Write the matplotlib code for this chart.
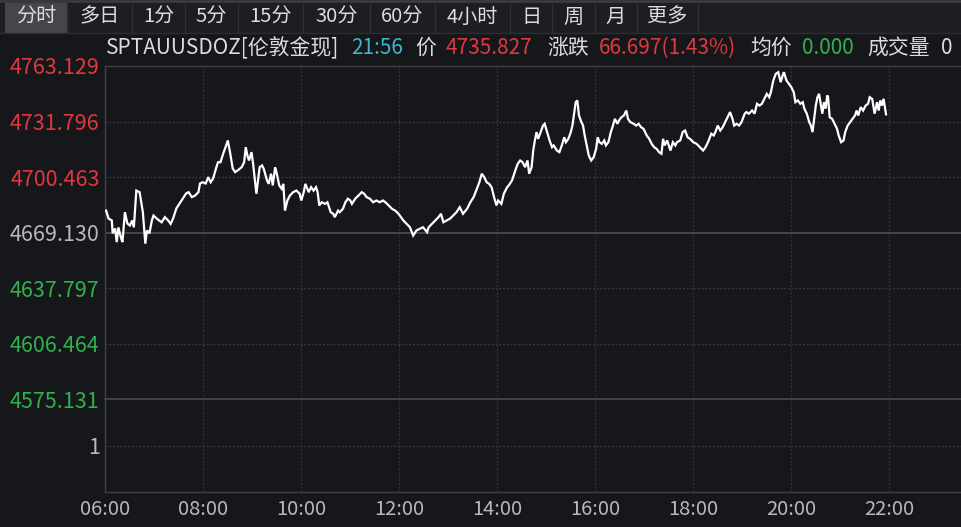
import matplotlib
matplotlib.use('Agg')
import matplotlib.pyplot as plt
from matplotlib.patches import Rectangle
from matplotlib.lines import Line2D

plt.rcParams['font.family'] = ['Noto Sans CJK SC', 'DejaVu Sans']

# ---------------- data ----------------
tab_labels = ["分时", "多日", "1分", "5分", "15分", "30分", "60分", "4小时", "日", "周", "月", "更多"]
x_tick_labels = ["06:00", "08:00", "10:00", "12:00", "14:00", "16:00", "18:00", "20:00", "22:00"]
x_tick_minutes = [0, 120, 240, 360, 480, 600, 720, 840, 960]
y_tick_values = [4763.129, 4731.796, 4700.463, 4669.130, 4637.797, 4606.464, 4575.131]
prev_close = 4669.130
volume_ticks = [1]

# minutes after 06:00
minutes = [
    1, 4, 8, 9, 12, 14, 16, 19, 21, 24, 27, 30, 33, 35, 38, 42, 45, 46, 49, 51,
    54, 57, 59, 63, 66, 69, 73, 77, 80, 83, 87, 91, 95, 99, 102, 106, 110, 114, 116, 119,
    123, 126, 129, 132, 136, 138, 141, 145, 148, 150, 153, 156, 159, 163, 167, 170, 172, 174, 176, 179,
    181, 183, 185, 189, 192, 194, 198, 200, 203, 205, 208, 210, 213, 216, 218, 220, 223, 226, 230, 234,
    238,
    240, 243, 245, 249, 252, 255, 258, 260, 262, 265, 269, 272, 276, 279, 281, 285, 287, 291, 294, 297,
    300, 302, 306, 310, 314, 317, 320, 324, 328, 332, 336, 340, 343, 347, 351, 355, 359, 362, 365, 369,
    373, 377, 381, 385, 389, 394, 396, 400, 404, 408, 411, 414, 418, 422, 426, 430, 434, 438, 443, 447,
    451, 455, 458, 461, 464, 467, 470, 473, 476, 479, 481, 485, 488, 492,
    494, 498, 502, 505, 508, 511, 514, 517, 519, 522, 524, 526, 528, 530, 533, 536, 538, 541, 544, 547,
    549, 553, 556, 559, 562, 564, 567, 570, 572, 574, 576, 578, 580, 583, 585, 587, 590, 592, 595, 598,
    601, 603, 605, 608, 611, 613, 616, 619, 621, 624, 627, 629, 632, 635, 638, 640, 643, 647, 650, 653,
    656, 659, 661, 663, 666, 669, 672, 675, 678, 681, 683, 685, 688, 692, 695, 698, 700, 704, 707, 710,
    713, 716, 720, 724, 728, 732, 735, 738, 742, 745, 747, 750, 753, 756, 759, 762, 765, 768, 770, 773,
    776, 779, 783, 785, 788, 792, 795, 798, 801, 804, 807, 810, 813, 815, 818, 821, 824, 827, 830, 831,
    834, 837, 840, 843, 845, 848, 851, 854, 856, 859, 862, 864, 866, 868, 870, 872, 874, 876, 878, 880,
    882, 884, 885, 887, 890, 893, 896, 898, 901, 904, 906, 909, 912, 915, 918, 920, 922, 925, 928, 931,
    934, 936, 939, 942, 945, 947, 949, 951, 953, 956,
]
prices = [
    4681.5, 4677.0, 4675.9, 4668.6, 4671.4, 4663.7, 4672.0, 4666.5, 4663.7, 4680.6,
    4674.2, 4673.1, 4675.9, 4672.1, 4692.8, 4691.9, 4683.4, 4680.6, 4662.8, 4670.3,
    4668.6, 4675.9, 4678.7, 4677.0, 4675.9, 4674.9, 4677.8, 4675.9, 4674.0, 4677.0,
    4682.7, 4685.5, 4688.3, 4691.2, 4691.9, 4689.1, 4690.0, 4691.9, 4696.8, 4697.5,
    4696.8, 4700.4, 4697.5, 4699.6, 4706.0, 4708.8, 4708.8, 4714.5, 4718.3, 4721.1,
    4713.7, 4705.3, 4703.2, 4704.5, 4706.0, 4708.8, 4717.3, 4712.6, 4709.8, 4714.5,
    4707.9, 4699.5, 4691.0, 4706.0, 4707.0, 4705.1, 4698.5, 4696.6, 4702.3, 4695.7,
    4706.0, 4702.3, 4695.7, 4693.8, 4696.6, 4681.5, 4687.2, 4690.0, 4691.9, 4692.8,
    4691.0,
    4687.2, 4691.9, 4696.6, 4691.9, 4694.7, 4692.8, 4694.7, 4691.9, 4684.4, 4686.2,
    4685.3, 4686.2, 4680.6, 4679.7, 4677.8, 4681.5, 4680.6, 4682.5, 4686.2, 4688.2,
    4687.2, 4685.3, 4688.2, 4690.0, 4691.9, 4691.0, 4689.1, 4688.2, 4686.2, 4687.2,
    4686.2, 4687.2, 4686.2, 4684.4, 4682.5, 4681.5, 4679.7, 4677.8, 4675.9, 4674.0,
    4672.1, 4667.4, 4670.3, 4671.2, 4672.1, 4669.3, 4672.1, 4674.0, 4675.9, 4677.8,
    4679.7, 4674.9, 4675.9, 4676.9, 4678.7, 4680.6, 4683.4, 4679.7, 4682.5, 4686.2,
    4689.1, 4693.8, 4697.5, 4702.3, 4700.4, 4697.5, 4696.6, 4694.7, 4689.1, 4684.4,
    4687.2, 4685.3, 4691.0, 4694.7,
    4695.7, 4698.5, 4704.1, 4707.9, 4709.8, 4708.8, 4706.0, 4709.8, 4702.3, 4706.0,
    4715.4, 4721.1, 4725.8, 4722.0, 4725.8, 4729.5, 4730.5, 4725.8, 4721.1, 4717.3,
    4718.3, 4715.4, 4714.5, 4718.3, 4722.9, 4720.1, 4722.0, 4725.8, 4729.5, 4736.2,
    4742.7, 4743.7, 4735.2, 4731.4, 4729.5, 4723.9, 4717.3, 4712.6, 4709.8, 4711.6,
    4716.4, 4722.9, 4720.1, 4719.2, 4721.1, 4718.3, 4720.1, 4725.8, 4728.6, 4733.3,
    4730.5, 4732.4, 4734.2, 4735.2, 4738.0, 4733.3, 4731.4, 4730.5, 4729.5, 4730.5,
    4728.6, 4727.7, 4725.8, 4723.9, 4722.0, 4719.2, 4717.3, 4716.4, 4714.5, 4713.6,
    4722.0, 4718.3, 4721.1, 4715.4, 4720.1, 4718.3, 4720.1, 4721.1, 4725.8, 4726.7,
    4722.9, 4722.0, 4720.1, 4719.2, 4717.3, 4715.4, 4717.3, 4720.1, 4724.9, 4723.9,
    4725.8, 4729.5, 4726.7, 4728.6, 4731.4, 4734.2, 4737.1, 4733.3, 4729.5, 4730.5,
    4729.5, 4731.4, 4736.2, 4737.1, 4736.2, 4738.0, 4736.2, 4741.8, 4740.8, 4741.8,
    4744.6, 4747.4, 4745.5, 4748.3, 4755.0, 4758.7, 4759.6, 4754.0, 4758.7, 4759.6,
    4755.0, 4753.1, 4751.2, 4748.3, 4742.7, 4743.7, 4741.8, 4742.7, 4739.0, 4736.2,
    4731.4, 4729.5, 4725.8, 4733.3, 4740.8, 4745.5, 4747.4, 4741.8, 4736.2, 4742.7,
    4739.0, 4746.5, 4745.5, 4734.2, 4733.3, 4730.5, 4727.7, 4723.9, 4720.1, 4721.1,
    4725.8, 4729.5, 4731.4, 4733.3, 4735.2, 4738.0, 4735.2, 4739.9, 4738.0, 4740.8,
    4741.8, 4745.5, 4744.6, 4736.2, 4742.7, 4738.0, 4743.7, 4740.8, 4744.6, 4735.827,
]

header_symbol = "SPTAUUSDOZ[伦敦金现]"
header_time = "21:56"
last_price = "4735.827"
change_text = "66.697(1.43%)"
avg_price = "0.000"
volume_text = "0"

# ---------------- style ----------------
W, H = 961, 527
BG = '#16171b'
TOOLBAR_BG = '#1d1e22'
GRID = '#3a3b40'
AXLINE = '#404147'
RED = '#e0383e'
GREEN = '#2fb24b'
GREY = '#b9b9bb'
WHITE = '#dcdcdc'
CYAN = '#3eb6c6'

fig = plt.figure(figsize=(W / 100, H / 100), dpi=100)
fig.patch.set_facecolor(BG)


def fx(x):
    return x / W


def fy(y):
    return 1 - y / H


# toolbar
fig.patches.append(Rectangle((0, fy(33)), 1, 33 / H, transform=fig.transFigure,
                             facecolor=TOOLBAR_BG, edgecolor='none', zorder=0))
fig.lines.append(Line2D([0, 1], [fy(1), fy(1)], transform=fig.transFigure, color='#3a3b40', lw=2))
fig.lines.append(Line2D([0, 1], [fy(33), fy(33)], transform=fig.transFigure, color='#2c2d32', lw=1))
tab_edges = [5, 67, 132, 185, 238, 303, 370, 435, 510, 552, 595, 637, 698]
fig.patches.append(Rectangle((fx(tab_edges[0]), fy(33)), fx(tab_edges[1] - tab_edges[0]), 30 / H,
                             transform=fig.transFigure, facecolor='#45464b', edgecolor='none', zorder=1))
for i, lab in enumerate(tab_labels):
    x0, x1 = tab_edges[i], tab_edges[i + 1]
    fig.text(fx((x0 + x1) / 2), fy(17), lab, color=WHITE, fontsize=14.5,
             ha='center', va='center')
for e in tab_edges[1:]:
    fig.lines.append(Line2D([fx(e), fx(e)], [fy(4), fy(32)], transform=fig.transFigure,
                            color='#303136', lw=1))

# header
hy = fy(48)
hfs = 15
fig.text(fx(106), hy, header_symbol, color=WHITE, fontsize=hfs, ha='left', va='center')
fig.text(fx(351), hy, header_time, color=CYAN, fontsize=hfs, ha='left', va='center')
fig.text(fx(415), hy, "价", color=WHITE, fontsize=hfs, ha='left', va='center')
fig.text(fx(446), hy, last_price, color=RED, fontsize=hfs, ha='left', va='center')
fig.text(fx(547), hy, "涨跌", color=WHITE, fontsize=hfs, ha='left', va='center')
fig.text(fx(599), hy, change_text, color=RED, fontsize=hfs, ha='left', va='center')
fig.text(fx(750), hy, "均价", color=WHITE, fontsize=hfs, ha='left', va='center')
fig.text(fx(802), hy, avg_price, color=GREEN, fontsize=hfs, ha='left', va='center')
fig.text(fx(867), hy, "成交量", color=WHITE, fontsize=hfs, ha='left', va='center')
fig.text(fx(941), hy, volume_text, color=WHITE, fontsize=hfs, ha='left', va='center')

# axes geometry
LEFT = 105.3
xmax = (W - LEFT) * 120 / 98.0
axv = fig.add_axes([fx(LEFT), fy(492), 1 - fx(LEFT), (492 - 399) / H])
ax = fig.add_axes([fx(LEFT), fy(399), 1 - fx(LEFT), (399 - 66) / H], sharex=axv)

for a in (ax, axv):
    a.set_facecolor('none')
    a.spines['right'].set_visible(False)
    for s in ('left', 'top', 'bottom'):
        a.spines[s].set_color(AXLINE)
        a.spines[s].set_linewidth(1.0)
    a.tick_params(length=0)
    for xv in x_tick_minutes[1:]:
        a.axvline(xv, color='#33353a', lw=0.9, ls=(0, (1.5, 1.5)), zorder=1)

ax.spines['bottom'].set_color('#4a4b51')
ax.spines['bottom'].set_linewidth(1.2)
axv.spines['top'].set_visible(False)

ax.set_xlim(0, xmax)
ax.set_ylim(y_tick_values[-1], y_tick_values[0])
ax.set_yticks(y_tick_values)
ax.set_yticklabels([f"{v:.3f}" for v in y_tick_values], fontsize=15.5)
for lab, v in zip(ax.get_yticklabels(), y_tick_values):
    if abs(v - prev_close) < 1e-6:
        lab.set_color(GREY)
    elif v > prev_close:
        lab.set_color(RED)
    else:
        lab.set_color(GREEN)
ax.tick_params(axis='y', pad=4)
ax.tick_params(axis='x', labelbottom=False)
for v in y_tick_values[1:-1]:
    if abs(v - prev_close) < 1e-6:
        ax.axhline(v, color='#4a4b51', lw=1.3, zorder=1)
    else:
        ax.axhline(v, color=GRID, lw=0.9, ls=(0, (1.5, 1.5)), zorder=1)

ax.plot(minutes, prices, color='white', lw=1.6, zorder=3, solid_joinstyle='miter')

axv.set_ylim(0, 2)
axv.set_yticks(volume_ticks)
axv.set_yticklabels([str(v) for v in volume_ticks], fontsize=15.5, color=GREY)
axv.tick_params(axis='y', pad=4)
for v in volume_ticks:
    axv.axhline(v, color=GRID, lw=0.9, ls=(0, (1.5, 1.5)), zorder=1)
axv.set_xticks(x_tick_minutes)
axv.set_xticklabels(x_tick_labels, fontsize=14.5, color=GREY)
axv.tick_params(axis='x', pad=5)
axv.set_xlim(0, xmax)

fig.savefig('out.png', dpi=100, facecolor=BG)
